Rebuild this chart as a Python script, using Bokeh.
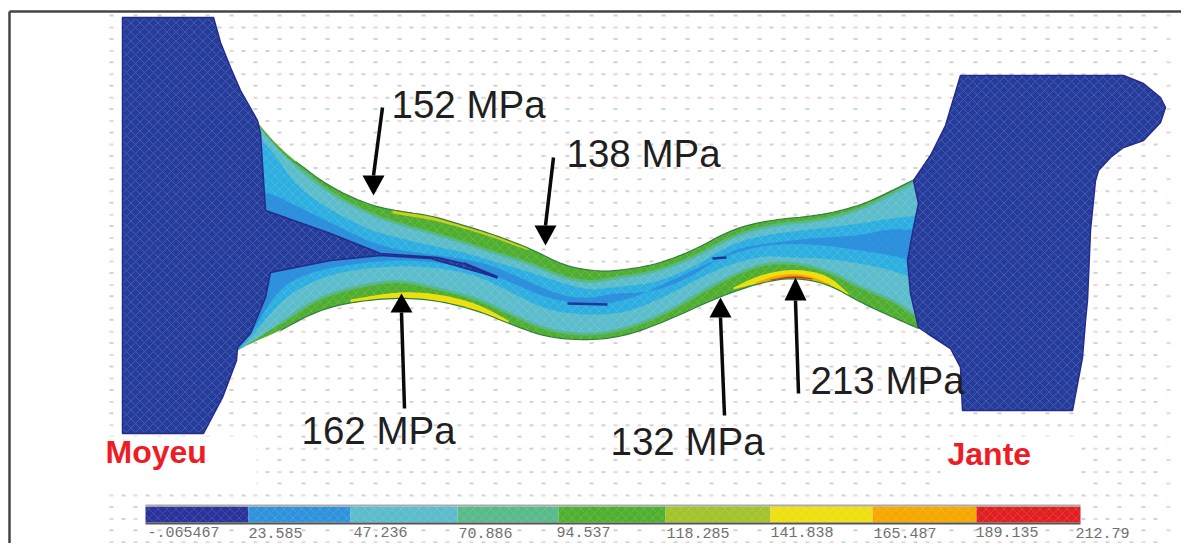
from bokeh.plotting import figure
from bokeh.embed import file_html
from bokeh.resources import INLINE
from bokeh.core.properties import value

# Contour outlines (pixel-like drawing units)
x_top = [257,275,295,330,370,400,430,460,490,530,563,590,610,653,693,733,773,820,860,890,918]
top_edge = [122,143,161,187,205,211,215,224,233,248,265,270,271,265,250,228,219,215,205,191,177]
top_c1 = [124,146,165,193,214,224,232,241,251,263,277,282,278,272,257,235,224,220,209,194,179]
top_c2 = [135,155,185,210,230,238,245,251,260,272,283,290,287,283,267,242,233,228,223,218,215]
top_c3 = [190,195,205,222,242,250,254,258,264,282,296,298,293,292,275,248,242,237,235,228,230]

x_bot = [237,250,280,313,347,397,437,477,513,547,590,627,667,717,760,793,827,860,893,918]
bot_edge = [350,343,330,312,302,297,300,310,325,337,340,335,320,297,282,277,283,302,317,328]
bot_c1 = [350,342,323,300,288,279,288,298,315,330,335,328,312,282,263,262,270,287,300,317]
bot_c2 = [350,338,300,280,270,265,267,275,293,310,315,312,295,268,255,257,258,263,270,280]
bot_c3 = [350,334,285,271,264,259,262,268,283,298,305,300,282,258,245,243,245,250,255,262]

hub_x = [122,213,220,230,240,257,260,265,330,380,437,463,497,430,380,330,270,265,250,237,236,222,203,122]
hub_y = [17,17,42,67,90,120,133,210,233,253,257,263,277,258,255,260,272,297,333,347,360,397,433,433]
rim_x = [960,1123,1143,1160,1165,1160,1143,1123,1110,1098,1095,1090,1087,1085,1082,1072,962,960,950,927,918,910,907,913,918,913,930,945]
rim_y = [75,75,83,97,107,122,140,147,157,170,180,230,300,320,357,410,410,367,348,333,327,293,260,227,203,180,155,125]

# Hot spots along the edge: x, outer y, inner y
hot_top_x = [392,430,460,490,528]
hot_top_o = [209,215,224,233,247]
hot_top_i = [213,219,227,236,250]
hot_low_x = [350,397,437,477,508]
hot_low_o = [302,297,300,310,323]
hot_low_i = [299,291,293,303,320]
hot_rim_x = [733,760,793,827,848]
hot_rim_o = [289,282,277,283,295]
hot_rim_i = [287,274,268,274,293]
org_rim_x = [755,775,793,812,830]
org_rim_o = [283,279,277,279,285]
org_rim_i = [282,275,273,276,284]
red_rim_x = [770,793,812]
red_rim_o = [280,277,279]
red_rim_i = [279,275,278]

# Colour bar
bar_edges = [145,248,350,457,558,665,770,872,976,1080]
bar_colors = ["#2a339c","#2e93dc","#5bbccb","#58b98a","#4fb030","#a4c22a","#eee010","#f5a800","#e02020"]
low_labels = ["-.065467","47.236","94.537","141.838","189.135"]
low_x = [147,353,556,770,975]
high_labels = ["23.585","70.886","118.285","165.487","212.79"]
high_x = [248,458,666,873,1075]

# Callouts
call_text = ["152 MPa","138 MPa","162 MPa","132 MPa","213 MPa"]
call_x = [391,566,301,610,810]
call_y = [104,153,430,441,380]
shaft_x0 = [382,553,404,724,798]
shaft_y0 = [107,157,408,415,393]
tip_x = [373,545,401,720,795]
tip_y = [195,245,293,297,277]
base_y = [175,225,312,317,300]
names = ["Moyeu","Jante"]
name_x = [105,947]
name_y = [451,453]

DOT_GRAY = "#d2d2d2"
DOT_PINK = "#f8d0d0"
HATCH = dict(hatch_pattern="diagonal_cross", hatch_scale=9, hatch_weight=1.0, hatch_alpha=0.13)

def smooth(xs, ys, n=3):
    # corner rounding of the outline as drawn; the read values stay as they are
    for _ in range(n):
        nx, ny = [xs[0]], [ys[0]]
        for a, b, c, d in zip(xs, ys, xs[1:], ys[1:]):
            nx += [0.75*a+0.25*c, 0.25*a+0.75*c]
            ny += [0.75*b+0.25*d, 0.25*b+0.75*d]
        nx.append(xs[-1]); ny.append(ys[-1])
        xs, ys = nx, ny
    return xs, ys

p = figure(width=1181, height=543, x_range=(0,1181), y_range=(543,0),
           output_backend="svg", toolbar_location=None, min_border=0, outline_line_color=None,
           background_fill_color="white", border_fill_color="white")
p.styles = {"margin-bottom": "-8px"}
p.xaxis.visible = False
p.yaxis.visible = False
p.grid.visible = False

# Dotted paper background
gx, gy, px, py = [], [], [], []
for k in range(23):
    ya = 15 + k*23.4
    yb = 27 + k*23.4
    for n in range(0, 45):
        x = 1143 - 24*n
        if x >= 105:
            gx.append(x); gy.append(ya)
        x = 1155 - 24*n
        if x >= 105:
            gx.append(x); gy.append(yb)
            px.append(x-12 if x-12 >= 105 else x+12); py.append(yb)
    px.append(1168); py.append(ya)
p.rect(gx, gy, width=4, height=2, fill_color=DOT_GRAY, line_color=None)
p.rect(px, py, width=4, height=2, fill_color=DOT_PINK, line_color=None)
# white boxes behind the two names
p.quad(left=[100,940], right=[256,1080], top=[436,436], bottom=[492,492], fill_color="white", line_color=None)

# Frame
p.line([9,9],[551,11], line_color="#444444", line_width=2.5)
p.line([9,1189],[11,11], line_color="#444444", line_width=2.5)

# Web bands, outside to inside
def band(t, b, color, hatch="#ffffff"):
    tx, ty = smooth(x_top, t)
    bx, by = smooth(x_bot, b)
    p.patch(tx + bx[::-1], ty + by[::-1], fill_color=color, line_color=None, hatch_color=hatch, **HATCH)

band(top_edge, bot_edge, "#4fae2f")
band(top_c1, bot_c1, "#5bbccb")
band(top_c2, bot_c2, "#2caee0")
band(top_c3, bot_c3, "#2e8fdc", "#31c8ee")
for xs, ys in ((x_top, top_c1), (x_bot, bot_c1)):
    sx, sy = smooth(xs[2:], ys[2:])
    p.line(sx, sy, line_color="#58b98a", line_width=3, line_alpha=0.9)

# Hot spots
def hot(x, o, i, c):
    ox, oy = smooth(x, o)
    ix, iy = smooth(x, i)
    p.patch(ox + ix[::-1], oy + iy[::-1], fill_color=c, line_color=None)
hot(hot_top_x, hot_top_o, hot_top_i, "#c8cf1c")
hot(hot_low_x, hot_low_o, hot_low_i, "#eee010")
hot(hot_rim_x, hot_rim_o, hot_rim_i, "#eee010")
hot(org_rim_x, org_rim_o, org_rim_i, "#f5a800")
hot(red_rim_x, red_rim_o, red_rim_i, "#d83020")
for xs, ys in ((x_top, top_edge), (x_bot, bot_edge)):
    sx, sy = smooth(xs[2:], ys[2:])
    p.line(sx, sy, line_color="#2f7f40", line_width=1.2)

# Dark streaks in the core
p.line([463,497],[263,277], line_color="#27329a", line_width=3)
p.line([567,607],[303,304], line_color="#27329a", line_width=2.5)
p.line([712,726],[258,257], line_color="#27329a", line_width=2.5)

# Hub and rim
for sx, sy in ((hub_x, hub_y), (rim_x, rim_y)):
    p.patch(sx, sy, fill_color="#2a3a9c", line_color="#232c8c", line_width=1.5,
            hatch_color="#4ac0c0", hatch_pattern="diagonal_cross", hatch_scale=9, hatch_weight=1.0, hatch_alpha=0.3)

# Colour bar
p.quad(left=bar_edges[:-1], right=bar_edges[1:], top=[506]*9, bottom=[522]*9,
       fill_color=bar_colors, line_color=None, hatch_color="#ffffff",
       hatch_pattern="diagonal_cross", hatch_scale=9, hatch_weight=1.0, hatch_alpha=0.12)
p.line([145,1080],[523,523], line_color="#555555", line_width=2)
p.line([145,1080],[505,505], line_color="#aaaaaa", line_width=2)

mono = value("Liberation Mono")
p.text(low_x, [531]*5, text=low_labels, text_font=mono, text_font_size="15px",
       text_color="#6f6f6f", text_align="left", text_baseline="middle")
p.text(high_x, [532]*5, text=high_labels, text_font=mono, text_font_size="15px",
       text_color="#6f6f6f", text_align="left", text_baseline="middle")

# Arrows
for x0,y0,tx,ty,by in zip(shaft_x0,shaft_y0,tip_x,tip_y,base_y):
    p.line([x0,tx],[y0,by], line_color="#0a0a0a", line_width=3.5)
    p.patch([tx-11,tx+11,tx],[by,by,ty], fill_color="#000000", line_color=None)

p.text(call_x, call_y, text=call_text, text_font=value("Liberation Sans"), text_font_size="38.5px",
       text_color="#1f1f1f", text_align="left", text_baseline="middle")
p.text(name_x, name_y, text=names, text_font=value("Liberation Sans"), text_font_style="bold",
       text_font_size="32px", text_color="#ee1c25", text_align="left", text_baseline="alphabetic")

open("out.html", "w").write(file_html(p, INLINE))
